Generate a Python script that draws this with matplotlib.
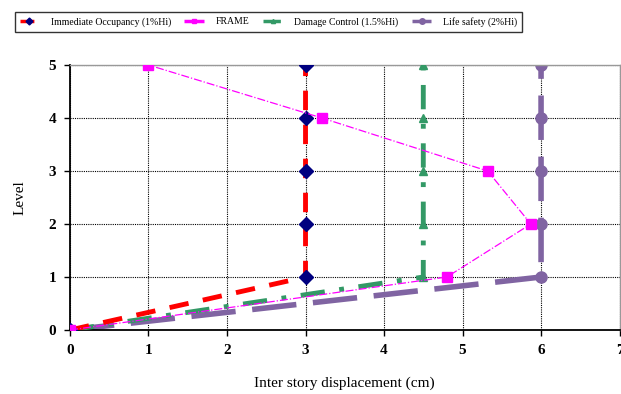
import matplotlib.pyplot as plt
import numpy as np

plt.rcParams['font.family'] = ['Liberation Serif', 'DejaVu Serif']

# story levels
levels = [0, 1, 2, 3, 4, 5]

# inter story displacement (cm)
io_disp = [0, 3, 3, 3, 3, 3]
frame_disp = [0, 4.8, 5.87, 5.32, 3.21, 1.0]
dc_disp = [0, 4.5, 4.5, 4.5, 4.5, 4.5]
ls_disp = [0, 6, 6, 6, 6, 6]

labels = ['Immediate Occupancy (1%Hi)', 'FRAME',
          'Damage Control (1.5%Hi)', 'Life safety (2%Hi)']

fig = plt.figure(figsize=(6.21, 3.94), dpi=100)
ax = fig.add_axes([0.1127, 0.1624, 0.885, 0.6726])

ax.plot(io_disp, levels, color='red', linestyle=(0, (4, 3)), linewidth=3.5,
        marker='D', markersize=7, markerfacecolor='#000080',
        markeredgecolor='#000080', label=labels[0], zorder=4)
ax.plot(frame_disp, levels, color='#FF00FF', linestyle='-.', linewidth=0.9,
        marker='s', markersize=7, markerfacecolor='#FF00FF',
        markeredgecolor='#FF00FF', label=labels[1], zorder=5)
ax.plot(dc_disp, levels, color='#339966', linestyle=(0, (5, 3, 1, 3)),
        linewidth=3.5, marker='^', markersize=6, markerfacecolor='#339966',
        markeredgecolor='#339966', label=labels[2], zorder=3)
ax.plot(ls_disp, levels, color='#8064A2', linestyle=(0, (8, 3)), linewidth=4,
        marker='o', markersize=8, markerfacecolor='#8064A2',
        markeredgecolor='#8064A2', label=labels[3], zorder=2)

ax.set_xlim(0, 7)
ax.set_ylim(0, 5)
ax.set_xticks(range(0, 8))
ax.set_yticks(range(0, 6))
ax.grid(True, color='black', linestyle=(0, (1, 1)), linewidth=0.8)
ax.set_axisbelow(True)

for s in ['left', 'bottom']:
    ax.spines[s].set_color('black')
    ax.spines[s].set_linewidth(1.3)
for s in ['top', 'right']:
    ax.spines[s].set_color('#999999')
    ax.spines[s].set_linewidth(1.0)

ax.tick_params(direction='out', length=4, width=1, labelsize=11, pad=6)
for lab in ax.get_xticklabels() + ax.get_yticklabels():
    lab.set_fontweight('bold')

ax.set_xlabel('Inter story displacement (cm)', fontsize=11, labelpad=14)
ax.set_ylabel('Level', fontsize=11, labelpad=16)

leg = fig.legend(loc='center', bbox_to_anchor=(0.432, 0.945), ncol=4,
                 fontsize=7, frameon=True, fancybox=False, edgecolor='black',
                 handlelength=2.0, columnspacing=1.4, handletextpad=1.2,
                 borderpad=0.5, markerscale=0.5)
leg.get_frame().set_linewidth(1.0)
for line in leg.get_lines():
    line.set_linewidth(2.5)

fig.savefig('out.png', dpi=100)
